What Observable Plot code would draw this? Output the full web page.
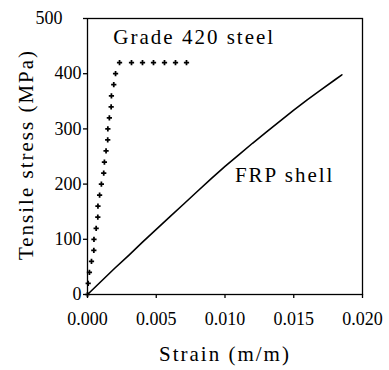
<!DOCTYPE html>
<html>
<head>
<meta charset="utf-8">
<script src="https://cdn.jsdelivr.net/npm/d3@7"></script>
<script src="https://cdn.jsdelivr.net/npm/@observablehq/plot@0.6"></script>
<style>
  html, body { margin: 0; padding: 0; background: #fff; }
</style>
</head>
<body>
<div id="chart"></div>
<script>
// Tick values
const strainTicks = [0, 0.005, 0.010, 0.015, 0.020];
const stressTicks = [0, 100, 200, 300, 400, 500];

// Grade 420 steel (markers)
const steelStrain = [0, 0.00005, 0.00014, 0.00029, 0.00046, 0.00047, 0.00063, 0.00075, 0.00076, 0.00088,
  0.00101, 0.00118, 0.00123, 0.00135, 0.00147, 0.00148, 0.00159, 0.00172, 0.00174, 0.00191,
  0.00204, 0.00233, 0.0032, 0.0040, 0.0048, 0.0056, 0.0064, 0.0072];
const steelStress = [0, 20, 40, 60, 80, 100, 120, 140, 160, 180,
  200, 220, 240, 260, 280, 300, 320, 340, 360, 380,
  400, 420, 420, 420, 420, 420, 420, 420];

// FRP shell (line)
const frpStrain = [0, 0.001, 0.002, 0.003, 0.004, 0.005, 0.006, 0.007, 0.008, 0.009,
  0.010, 0.011, 0.012, 0.013, 0.014, 0.015, 0.016, 0.017, 0.018, 0.0185];
const frpStress = [0, 24, 48, 71, 95, 118, 141, 164, 187, 210,
  232, 253, 274, 294, 314, 334, 353, 371, 389, 398];

// Series labels (anchored in data coordinates)
const seriesNames = ["Grade 420 steel", "FRP shell"];
const nameStrain = [0.00188, 0.01072];
const nameStress = [453, 203];

const xTitle = "Strain (m/m)";
const yTitle = "Tensile stress (MPa)";

const serif = "Liberation Serif";

const steel = steelStrain.map((s, i) => ({strain: s, stress: steelStress[i]}));
const frp = frpStrain.map((s, i) => ({strain: s, stress: frpStress[i]}));
const names = seriesNames.map((n, i) => ({name: n, strain: nameStrain[i], stress: nameStress[i]}));

const yMax = d3.max(stressTicks);
const axisStyle = {tickSize: 4, label: null, stroke: "#000", strokeWidth: 1.3, fontSize: 18, fontFamily: serif, tickFormat: d3.format("d")};

const chart = Plot.plot({
  width: 389,
  height: 370,
  marginLeft: 87,
  marginRight: 27,
  marginTop: 18,
  marginBottom: 76,
  style: {background: "#fff", color: "#000"},
  x: {domain: [0, 0.02]},
  y: {domain: [0, 500]},
  marks: [
    Plot.axisX({ticks: strainTicks, tickFormat: d3.format(".3f"), tickSize: 4, tickPadding: 14, label: null, stroke: "#000", strokeWidth: 1.3, fontSize: 18, fontFamily: serif}),
    Plot.axisY({...axisStyle, ticks: stressTicks.filter(d => d < yMax), tickPadding: 2}),
    Plot.axisY({...axisStyle, ticks: stressTicks.filter(d => d === yMax), tickPadding: 21}),
    Plot.frame({stroke: "#000", strokeWidth: 1.3}),
    Plot.line(frp, {x: "strain", y: "stress", stroke: "#000", strokeWidth: 1.6}),
    Plot.dot(steel, {x: "strain", y: "stress", symbol: "cross", fill: "#000", stroke: null, r: 2.2}),
    Plot.text(names, {x: "strain", y: "stress", text: "name", textAnchor: "start", lineAnchor: "bottom", fontSize: 21, fontFamily: serif, fill: "#000"}),
    Plot.text([xTitle], {frameAnchor: "bottom", textAnchor: "middle", dy: 66, lineAnchor: "bottom", fontSize: 21, fontFamily: serif, fill: "#000"}),
    Plot.text([yTitle], {frameAnchor: "left", textAnchor: "middle", rotate: -90, dx: -61, dy: -2, fontSize: 21, fontFamily: serif, fill: "#000"})
  ]
});

d3.select(chart).selectAll("text").each(function() {
  const t = this.textContent;
  if (t === xTitle || t === yTitle || seriesNames.includes(t)) {
    this.style.letterSpacing = "2px";
  }
});

document.getElementById("chart").appendChild(chart);
</script>
</body>
</html>
